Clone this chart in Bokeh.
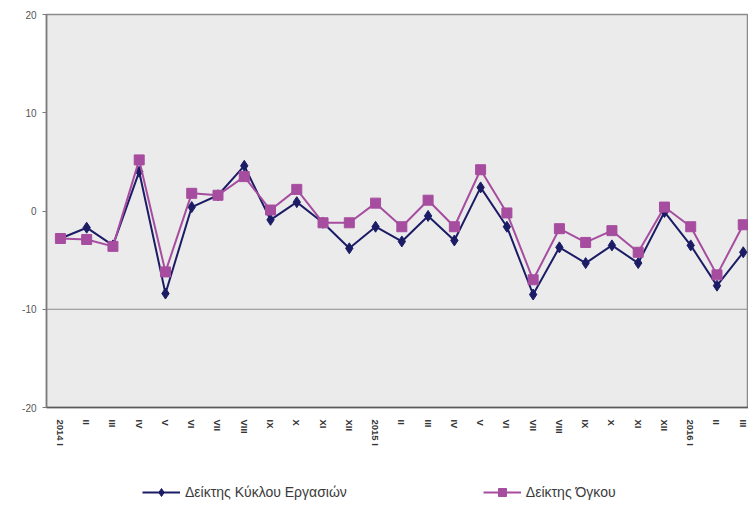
from bokeh.plotting import figure
from bokeh.layouts import column
from bokeh.models import (Legend, LegendItem, FixedTicker, Span, Range1d)
from bokeh.embed import file_html
from bokeh.resources import INLINE

# Month labels (Roman numerals), year shown on each January
periods = ["2014 I", "II", "III", "IV", "V", "VI", "VII", "VIII", "IX", "X", "XI", "XII",
           "2015 I", "II", "III", "IV", "V", "VI", "VII", "VIII", "IX", "X", "XI", "XII",
           "2016 I", "II", "III"]

# Turnover index (annual % change)
turnover = [-2.8, -1.7, -3.5, 4.0, -8.4, 0.4, 1.6, 4.6, -0.9, 0.9, -1.2, -3.8,
            -1.6, -3.1, -0.5, -3.0, 2.4, -1.6, -8.5, -3.7, -5.3, -3.5, -5.3, -0.1,
            -3.5, -7.6, -4.2]

# Volume index (annual % change)
volume = [-2.8, -2.9, -3.6, 5.2, -6.2, 1.8, 1.6, 3.5, 0.1, 2.2, -1.2, -1.2,
          0.8, -1.6, 1.1, -1.6, 4.2, -0.2, -7.0, -1.8, -3.2, -2.0, -4.2, 0.4,
          -1.6, -6.5, -1.4]

y_ticks = [-20, -10, 0, 10, 20]
y_tick_labels = ["-20", "-10", "0", "10", "20"]

turnover_label = "Δείκτης Κύκλου Εργασιών"
volume_label = "Δείκτης Όγκου"

FONT = "Liberation Sans"
NAVY = "#1c1c66"
PINK = "#a64d9f"

x = list(range(len(periods)))


def draw_series(fig):
    """Draw both index series on a figure and return their renderers."""
    l1 = fig.line(x, turnover, line_color=NAVY, line_width=2)
    m1 = fig.scatter(x, turnover, marker="diamond", size=11, fill_color=NAVY, line_color=NAVY)
    l2 = fig.line(x, volume, line_color=PINK, line_width=2)
    m2 = fig.scatter(x, volume, marker="square", size=10, fill_color=PINK, line_color=PINK)
    return l1, m1, l2, m2


# ---- main chart ----
p = figure(width=748, height=471, output_backend="svg", toolbar_location=None,
           x_range=Range1d(-0.53, len(periods) - 0.8), y_range=Range1d(-20, 20),
           min_border_left=46, min_border_right=0, min_border_top=14,
           min_border_bottom=64)

p.background_fill_color = "#ebebeb"
p.border_fill_color = "white"
p.outline_line_color = "#8c8c8c"
p.outline_line_width = 1.5

p.xgrid.visible = False
p.ygrid.visible = False

# Reference line at -10
p.add_layout(Span(location=-10, dimension="width", line_color="#8c8c8c", line_width=1.2))

p.yaxis.ticker = FixedTicker(ticks=y_ticks)
p.yaxis.major_label_overrides = dict(zip(y_ticks, y_tick_labels))
p.yaxis.axis_line_color = "#7a7a7a"
p.yaxis.axis_line_width = 1.5
p.yaxis.major_tick_line_color = "#7a7a7a"
p.yaxis.major_tick_out = 4
p.yaxis.major_tick_in = 0
p.yaxis.minor_tick_line_color = None
p.yaxis.major_label_text_font = FONT
p.yaxis.major_label_text_font_size = "10px"
p.yaxis.major_label_text_color = "#555555"
p.yaxis.major_label_standoff = 6

p.xaxis.ticker = FixedTicker(ticks=x)
p.xaxis.major_label_overrides = {i: lab for i, lab in enumerate(periods)}
p.xaxis.major_label_orientation = "vertical"
p.xaxis.axis_line_color = "#5a5a5a"
p.xaxis.axis_line_width = 1.5
p.xaxis.major_tick_line_color = None
p.xaxis.major_tick_out = 0
p.xaxis.major_tick_in = 0
p.xaxis.minor_tick_line_color = None
p.xaxis.minor_tick_out = 0
p.xaxis.major_label_text_font = FONT
p.xaxis.major_label_text_font_size = "9.5px"
p.xaxis.major_label_text_font_style = "bold"
p.xaxis.major_label_text_color = "#333333"
p.xaxis.major_label_standoff = 12

draw_series(p)

# ---- legend strip under the chart ----
leg = figure(width=748, height=40, output_backend="svg", toolbar_location=None,
             x_axis_location=None, y_axis_location=None,
             x_range=Range1d(-0.53, len(periods) - 0.8), y_range=Range1d(100, 101),
             min_border=0)
leg.outline_line_color = None
leg.background_fill_color = "white"
leg.border_fill_color = "white"
leg.xgrid.visible = False
leg.ygrid.visible = False

l1, m1, l2, m2 = draw_series(leg)

legend = Legend(items=[LegendItem(label=turnover_label, renderers=[l1, m1]),
                       LegendItem(label=volume_label, renderers=[l2, m2])],
                orientation="horizontal", location=(96, 9),
                label_text_font=FONT, label_text_font_size="14px",
                label_text_color="#3a3a3a", glyph_width=38, spacing=136,
                border_line_color=None, background_fill_alpha=0,
                padding=2, label_standoff=5, margin=0)
leg.add_layout(legend, "center")

layout = column(p, leg, spacing=0)

open("out.html", "w").write(file_html(layout, INLINE))
